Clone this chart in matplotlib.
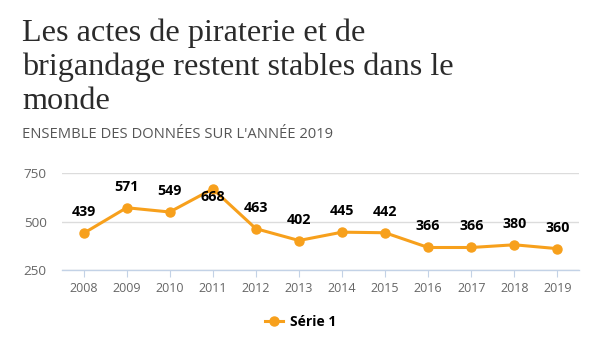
import matplotlib.pyplot as plt
from matplotlib.lines import Line2D

years = ["2008", "2009", "2010", "2011", "2012", "2013", "2014", "2015",
         "2016", "2017", "2018", "2019"]
actes = [439, 571, 549, 668, 463, 402, 445, 442, 366, 366, 380, 360]
y_ticks = [250, 500, 750]

title_lines = ["Les actes de piraterie et de",
               "brigandage restent stables dans le",
               "monde"]
subtitle = "ENSEMBLE DES DONNÉES SUR L'ANNÉE 2019"
serie_name = "Série 1"

orange = "#f7a01c"
W, H = 599, 351

fig = plt.figure(figsize=(W / 100, H / 100), dpi=100)
ax = fig.add_axes([62 / W, 1 - 270 / H, (579 - 62) / W, (270 - 173) / H])

x = list(range(len(years)))
ax.plot(x, actes, color=orange, linewidth=2.2, marker="o", markersize=6.5,
        zorder=3, clip_on=False)

for i, v in enumerate(actes):
    # the top label gets pushed back inside the plot area
    off = -8 if v == max(actes) else 21
    ax.annotate(str(v), (i, v), xytext=(0, off), textcoords="offset pixels",
                ha="center", va="center", fontsize=10.3, fontweight="bold",
                family="Open Sans", color="black", zorder=4)

ax.set_xlim(-0.5, len(years) - 0.5)
ax.set_ylim(250, 750)
ax.set_yticks(y_ticks)
ax.set_xticks(x)
ax.set_xticklabels(years)
ax.grid(axis="y", color="#dcdcdc", linewidth=1)
ax.set_axisbelow(True)
for s in ["top", "right", "left"]:
    ax.spines[s].set_visible(False)
ax.spines["bottom"].set_color("#c3d2e6")
ax.spines["bottom"].set_linewidth(1)
ax.tick_params(axis="y", length=0, pad=11, labelsize=9.7, labelcolor="#666666")
ax.tick_params(axis="x", length=5, color="#c3d2e6", pad=4, labelsize=9,
               labelcolor="#666666")
for lbl in ax.get_xticklabels() + ax.get_yticklabels():
    lbl.set_family("Open Sans")

# title, one line at a time (baselines at 41, 75, 109 px)
for k, line in enumerate(title_lines):
    fig.text(22 / W, 1 - (41 + 34 * k) / H, line, ha="left", va="baseline",
             fontsize=23.2, family="Liberation Serif", color="#2b2b2b")
fig.text(22 / W, 1 - 135 / H, subtitle, ha="left", va="center", fontsize=10.6,
         family="Open Sans", color="#555555")

handle = Line2D([], [], color=orange, linewidth=2.2, marker="o", markersize=6.5)
fig.legend([handle], [serie_name], loc="center", bbox_to_anchor=(301 / W, 1 - 322 / H),
           frameon=False, handlelength=1.3, handletextpad=0.5,
           prop={"family": "Open Sans", "weight": "bold", "size": 10})

fig.savefig("out.png", dpi=100, facecolor="white")
